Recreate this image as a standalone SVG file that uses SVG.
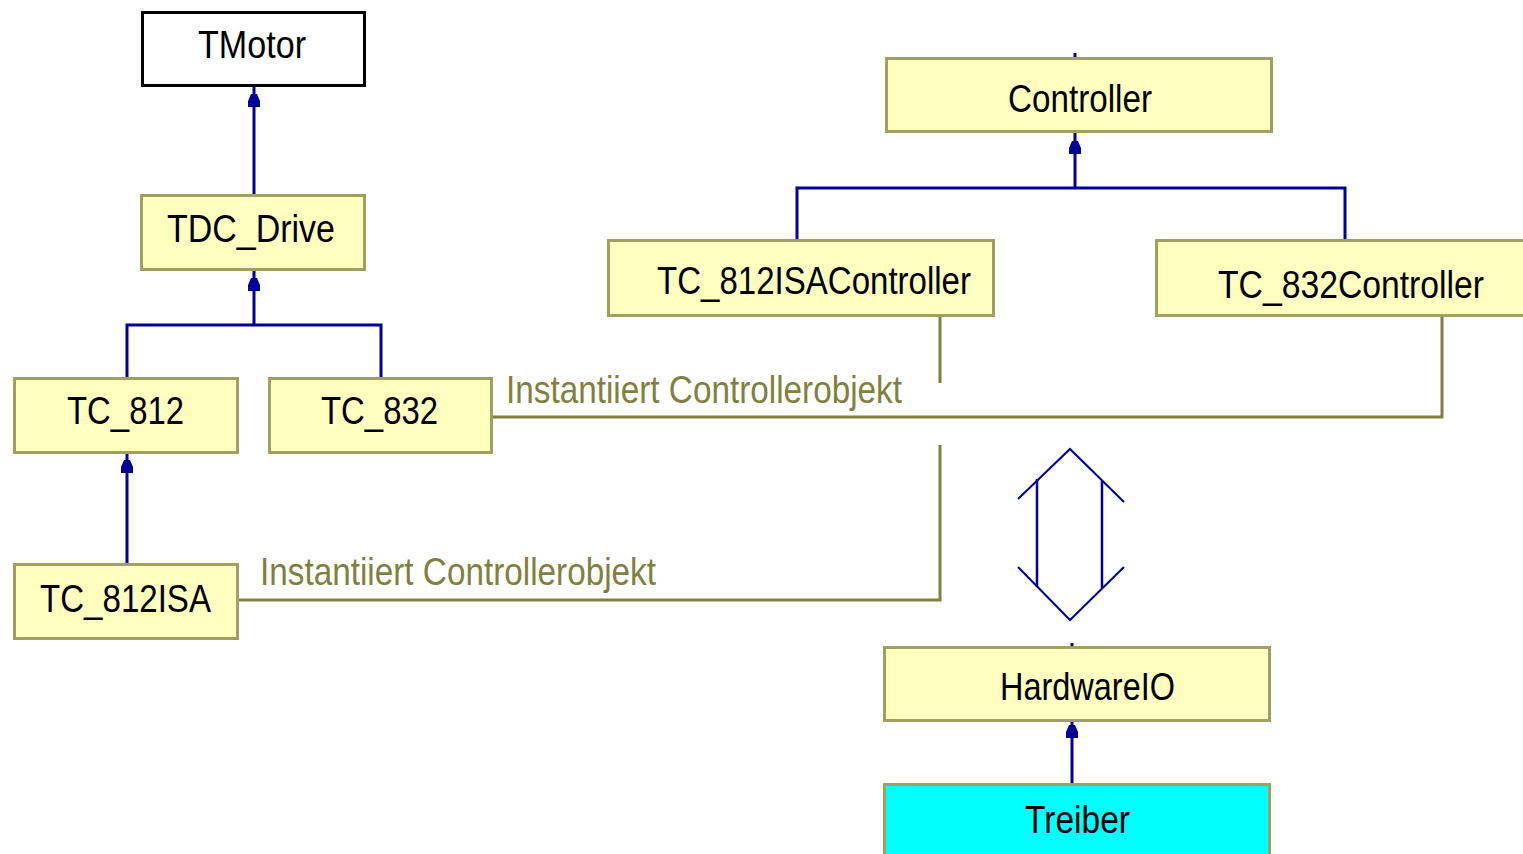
<svg xmlns="http://www.w3.org/2000/svg" width="1523" height="854" viewBox="0 0 1523 854">
<style>
.box{fill:#ffffc0;stroke:#a0a060;stroke-width:3}
.white{fill:#ffffff;stroke:#000000;stroke-width:3}
.cyan{fill:#00ffff;stroke:#a0a060;stroke-width:3}
.t{font-family:"Liberation Sans",Arial,sans-serif;font-size:39px;fill:#000000}
.lbl{font-family:"Liberation Sans",Arial,sans-serif;font-size:39px;fill:#808040}
.inh{fill:none;stroke:#000099;stroke-width:3}
.asc{fill:none;stroke:#808040;stroke-width:3}
.thin{fill:none;stroke:#000099;stroke-width:2}
.ah{fill:#000099}
</style>
<defs>
<polygon id="arr" points="-3,0 3,0 6,7 6,13 -6,13 -6,7"/>
</defs>
<rect width="1523" height="854" fill="#ffffff"/>
<g id="connectors">
<line class="inh" x1="254" y1="87" x2="254" y2="194"/>
<use href="#arr" class="ah" x="254" y="94"/>
<path class="inh" d="M254 270 V325 M127 377 V325 H381 V377"/>
<use href="#arr" class="ah" x="254" y="278"/>
<line class="inh" x1="127" y1="453" x2="127" y2="564"/>
<use href="#arr" class="ah" x="127" y="460"/>
<path class="inh" d="M1075 132 V188 M797 240 V188 H1345 V240"/>
<use href="#arr" class="ah" x="1075" y="141"/>
<line class="inh" x1="1075" y1="53" x2="1075" y2="57"/>
<line class="inh" x1="1072" y1="721" x2="1072" y2="783"/>
<use href="#arr" class="ah" x="1072" y="725"/>
<line class="inh" x1="1072" y1="643" x2="1072" y2="647"/>
<path class="asc" d="M492 417 H1442 V316"/>
<path class="asc" d="M940 316 V383 M940 445 V600 H238"/>
<text class="lbl" x="506" y="403" textLength="396" lengthAdjust="spacingAndGlyphs">Instantiiert Controllerobjekt</text>
<text class="lbl" x="260" y="585" textLength="396" lengthAdjust="spacingAndGlyphs">Instantiiert Controllerobjekt</text>
<path class="thin" d="M1018 499 L1070 449 L1124 502 M1018 567 L1070 620 L1124 567"/>
<path class="inh" d="M1037 479 V587 M1102 481 V588" style="stroke-width:2.5"/>
</g>
<g id="TMotor">
<rect class="white" x="142.5" y="12.5" width="222" height="73"/>
<text class="t" x="198" y="58" textLength="108" lengthAdjust="spacingAndGlyphs">TMotor</text>
</g>
<g id="TDC_Drive">
<rect class="box" x="141.5" y="195.5" width="223" height="74"/>
<text class="t" x="167" y="242" textLength="168" lengthAdjust="spacingAndGlyphs">TDC_Drive</text>
</g>
<g id="TC_812">
<rect class="box" x="14.5" y="378.5" width="223" height="74"/>
<text class="t" x="67" y="424" textLength="117" lengthAdjust="spacingAndGlyphs">TC_812</text>
</g>
<g id="TC_832">
<rect class="box" x="269.5" y="378.5" width="222" height="74"/>
<text class="t" x="321" y="424" textLength="117" lengthAdjust="spacingAndGlyphs">TC_832</text>
</g>
<g id="TC_812ISA">
<rect class="box" x="14.5" y="564.5" width="223" height="74"/>
<text class="t" x="40" y="612" textLength="171" lengthAdjust="spacingAndGlyphs">TC_812ISA</text>
</g>
<g id="Controller">
<rect class="box" x="886.5" y="58.5" width="385" height="73"/>
<text class="t" x="1008" y="112" textLength="144" lengthAdjust="spacingAndGlyphs">Controller</text>
</g>
<g id="TC_812ISAController">
<rect class="box" x="608.5" y="240.5" width="385" height="75"/>
<text class="t" x="657" y="294" textLength="314" lengthAdjust="spacingAndGlyphs">TC_812ISAController</text>
</g>
<g id="TC_832Controller">
<rect class="box" x="1156.5" y="240.5" width="380" height="75"/>
<text class="t" x="1218" y="298" textLength="266" lengthAdjust="spacingAndGlyphs">TC_832Controller</text>
</g>
<g id="HardwareIO">
<rect class="box" x="884.5" y="647.5" width="385" height="73"/>
<text class="t" x="1000" y="700" textLength="175" lengthAdjust="spacingAndGlyphs">HardwareIO</text>
</g>
<g id="Treiber">
<rect class="cyan" x="884.5" y="784.5" width="385" height="80"/>
<text class="t" x="1025" y="833" textLength="105" lengthAdjust="spacingAndGlyphs">Treiber</text>
</g>
</svg>
